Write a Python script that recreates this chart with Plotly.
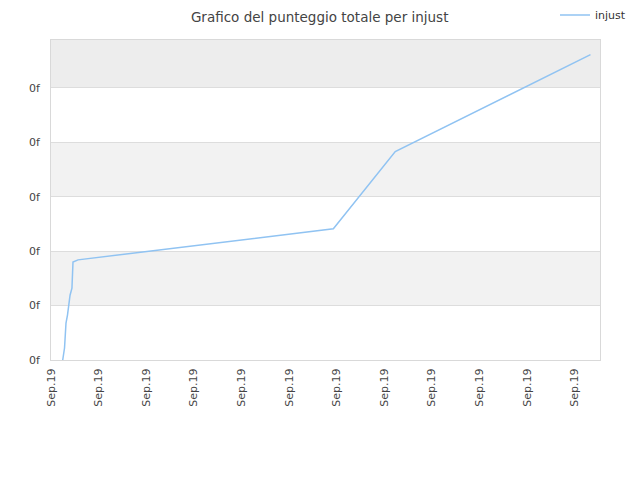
"""
Line chart of the total score over time for the user injust.
"""

import plotly.graph_objects as go

# Data (x in tick steps, y in tick steps)
x_vals = [0.246, 0.284, 0.315, 0.347, 0.40, 0.44, 0.462, 0.567, 5.93, 7.23, 11.33]
y_vals = [0.0, 0.22, 0.68, 0.83, 1.19, 1.32, 1.80, 1.84, 2.41, 3.83, 5.61]
series_name = "injust"
title_text = "Grafico del punteggio totale per injust"

x_ticks = list(range(12))
x_labels = ["Sep.19"] * 12
y_ticks = [0, 1, 2, 3, 4, 5]
y_labels = ["0f"] * 6

fig = go.Figure()
fig.add_trace(go.Scatter(
    x=x_vals, y=y_vals, mode="lines", name=series_name,
    line=dict(color="#90c3f2", width=1.5),
))

# Alternating horizontal bands
bands = [(1, 2, "#f2f2f2"), (3, 4, "#f2f2f2"), (5, 5.88, "#ededed")]
for y0, y1, col in bands:
    fig.add_shape(type="rect", xref="paper", yref="y", x0=0, x1=1, y0=y0, y1=y1,
                  fillcolor=col, line=dict(width=0), layer="below")

# the page body adds an 8px offset, margins account for it
fig.update_layout(
    width=640, height=480,
    margin=dict(l=43, r=48, t=32, b=128, autoexpand=False),
    plot_bgcolor="white", paper_bgcolor="white",
    font=dict(family="DejaVu Sans", color="#444444", size=11),
    title=dict(text=title_text, x=0.487, xref="container", xanchor="center",
               y=0.981, yref="container", yanchor="middle",
               font=dict(size=13.5, color="#444444")),
    showlegend=True,
    legend=dict(x=0.918, xanchor="left", y=1.078, yanchor="middle",
                font=dict(size=11, color="#333333"), itemwidth=30,
                bgcolor="rgba(0,0,0,0)"),
    xaxis=dict(range=[0, 11.53], tickvals=x_ticks, ticktext=x_labels, tickangle=-90,
               showgrid=False, zeroline=False, showline=True, mirror=True,
               automargin=False, ticklabelstandoff=3,
               linecolor="#d9d9d9", linewidth=1, tickfont=dict(size=11, color="#444444")),
    yaxis=dict(range=[0, 5.88], tickvals=y_ticks, ticktext=y_labels,
               showgrid=True, gridcolor="#dddddd", zeroline=False, showline=True,
               mirror=True, linecolor="#d9d9d9", linewidth=1, automargin=False,
               ticklabelstandoff=8,
               tickfont=dict(size=11, color="#444444")),
)

fig.write_html("out.html")
